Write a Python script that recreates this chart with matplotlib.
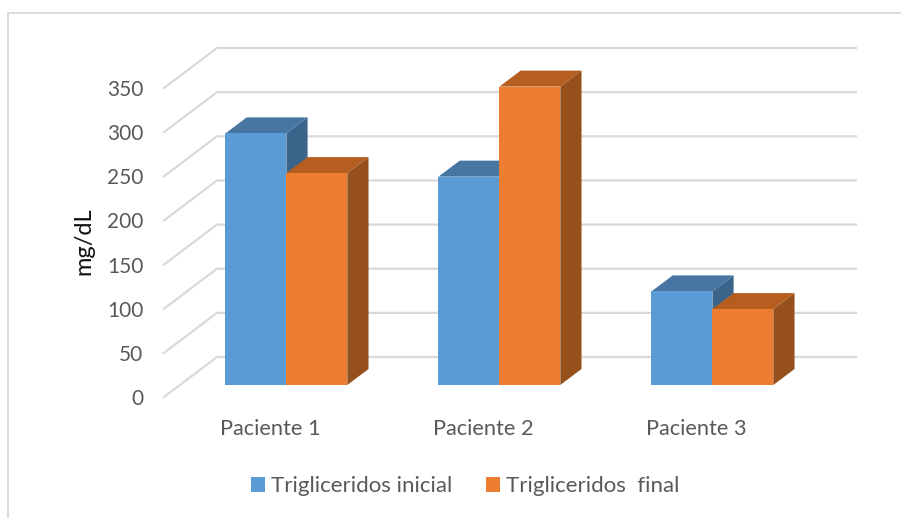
import numpy as np
import matplotlib
matplotlib.use('Agg')
import matplotlib.pyplot as plt
from matplotlib.patches import Polygon, Patch
from matplotlib.lines import Line2D

plt.rcParams['font.family'] = ['Lato', 'DejaVu Sans']

pacientes = ['Paciente 1', 'Paciente 2', 'Paciente 3']
inicial = [285, 236, 106]
final = [240, 338, 86]
series_names = ['Trigliceridos inicial', 'Trigliceridos  final']
yticks = [0, 50, 100, 150, 200, 250, 300, 350]

# front, top, side colours
blue = ('#5B9BD5', '#4776A3', '#3A648A')
orange = ('#ED7D31', '#B55E20', '#96501C')
grid_col = '#D9D9D9'
text_col = '#595959'

W, H = 901, 518
fig = plt.figure(figsize=(W / 100, H / 100), dpi=100)
ax = fig.add_axes([164 / W, 1 - 397 / H, 639 / W, 309 / H])
ax.set_xlim(-0.5, 2.5)
ax.set_ylim(0, 350)

# fake 3d: shift per unit of depth, in data units
dx = 53 / 213
dy = 45.3
z_front = 0.30
z_back = 0.70
bar_w = 0.286


def proj(x, y, z):
    return (x + z * dx, y + z * dy)


# gridlines: side wall then back wall
for v in yticks:
    pts = [proj(-0.5, v, 0), proj(-0.5, v, 1), proj(2.5, v, 1)]
    ax.add_line(Line2D([p[0] for p in pts], [p[1] for p in pts], color=grid_col,
                       lw=1.6, clip_on=False, zorder=1))


def bar3d(x0, x1, v, cols, zorder):
    front = [proj(x0, 0, z_front), proj(x1, 0, z_front), proj(x1, v, z_front), proj(x0, v, z_front)]
    top = [proj(x0, v, z_front), proj(x1, v, z_front), proj(x1, v, z_back), proj(x0, v, z_back)]
    side = [proj(x1, 0, z_front), proj(x1, 0, z_back), proj(x1, v, z_back), proj(x1, v, z_front)]
    ax.add_patch(Polygon(side, fc=cols[2], ec='none', clip_on=False, zorder=zorder))
    ax.add_patch(Polygon(top, fc=cols[1], ec='none', clip_on=False, zorder=zorder))
    ax.add_patch(Polygon(front, fc=cols[0], ec='none', clip_on=False, zorder=zorder))


for i in range(len(pacientes)):
    bar3d(i - bar_w, i, inicial[i], blue, 2 + i)
    bar3d(i, i + bar_w, final[i], orange, 2.5 + i)

for s in ax.spines.values():
    s.set_visible(False)
ax.patch.set_visible(False)
ax.set_yticks(yticks)
ax.set_xticks(range(len(pacientes)))
ax.set_xticklabels(pacientes)
ax.tick_params(axis='both', length=0, labelcolor=text_col)
ax.tick_params(axis='y', pad=15, labelsize=15)
ax.tick_params(axis='x', pad=16, labelsize=15.7)
fig.text(84 / W, 1 - 241 / H, 'mg/dL', rotation=90, ha='center', va='center',
         fontsize=17, color='#111111')

handles = [Patch(fc=blue[0], ec='none'), Patch(fc=orange[0], ec='none')]
fig.legend(handles, series_names, loc='center', bbox_to_anchor=(465 / W, 1 - 486 / H),
           ncol=2, frameon=False, fontsize=16, labelcolor=text_col, handlelength=0.64,
           handleheight=0.64, handletextpad=0.27, columnspacing=1.5)

# outer chart frame
fig.add_artist(Line2D([8 / W, 8 / W, 1], [0, 1 - 13 / H, 1 - 13 / H], color=grid_col, lw=1.3))

fig.savefig('out.png', dpi=100)
